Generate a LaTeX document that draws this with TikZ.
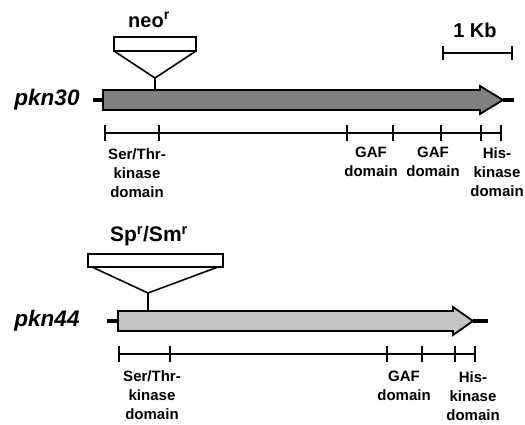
\documentclass[tikz,border=0pt]{standalone}
\usepackage{fontspec}
\setmainfont{Liberation Sans}
\usetikzlibrary{positioning}
\definecolor{BarDark}{RGB}{128,128,128}
\definecolor{BarLight}{RGB}{196,196,196}

\begin{document}
\begin{tikzpicture}[
    x=1pt, y=-1pt,
    genebar/.style={draw=black, line width=1.8pt, line join=miter},
    genestub/.style={line width=4.5pt},
    mapline/.style={line width=1.6pt},
    insertbox/.style={draw=black, line width=1.6pt, fill=white},
    genename/.style={font=\fontsize{22.5}{25}\selectfont\bfseries\itshape, inner sep=0pt},
    markerlabel/.style={font=\fontsize{20}{23}\selectfont\bfseries, inner sep=0pt},
    domainlabel/.style={font=\fontsize{15}{19}\selectfont\bfseries, align=center, anchor=north, inner sep=0pt}
]
\useasboundingbox (0,0) rectangle (525,425);

% pkn30: dark gene arrow with its flanking stubs
\node[genename] (pkn30) at (47,100) {pkn30};
\coordinate (g30start) at (103,100);
\coordinate (g30tip) at (503,100);
\draw[genestub] (93,100) -- (g30start);
\draw[genestub] (g30tip) -- (514,100);
\draw[genebar, fill=BarDark] (103,90) -- (480,90) -- (480,86) -- (g30tip)
    -- (480,114) -- (480,110) -- (103,110) -- cycle;

% neo cassette inserted into pkn30
\node[markerlabel] (neo) at (149,20) {neo\textsuperscript{r}};
\coordinate (neoapex) at (155,78);
\draw[insertbox] (114,37) rectangle (196,51);
\draw[mapline, line join=miter] (114,51) -- (neoapex) -- (196,51);
\draw[mapline] (neoapex) -- (155,90);

% scale bar
\node[markerlabel] (kb) at (475,30) {1 Kb};
\coordinate (kbleft) at (443,53);
\coordinate (kbright) at (512,53);
\draw[mapline] (kbleft) -- (kbright);
\foreach \x in {443,512}
    \draw[mapline] (\x,46) -- (\x,60);

% pkn30 domain map
\coordinate (map30left) at (105,133);
\coordinate (map30right) at (501,133);
\draw[mapline] (map30left) -- (map30right);
\foreach \x in {105,159,347,393,441,481,501}
    \draw[mapline] (\x,125) -- (\x,141);
\node[domainlabel] (st30) at (137,148) {Ser/Thr-\\kinase\\domain};
\node[domainlabel] (gafa30) at (371,147) {GAF\\domain};
\node[domainlabel] (gafb30) at (433,147) {GAF\\domain};
\node[domainlabel] (his30) at (497,147) {His-\\kinase\\domain};

% pkn44: light gene arrow with its flanking stubs
\node[genename] (pkn44) at (47,321) {pkn44};
\coordinate (g44start) at (118,321);
\coordinate (g44tip) at (473,321);
\draw[genestub] (107,321) -- (g44start);
\draw[genestub] (g44tip) -- (488,321);
\draw[genebar, fill=BarLight] (118,311) -- (453,311) -- (453,307) -- (g44tip)
    -- (453,335) -- (453,331) -- (118,331) -- cycle;

% Sp/Sm cassette inserted into pkn44
\node[markerlabel, font=\fontsize{21}{24}\selectfont\bfseries] (spsm) at (149,236) {Sp\textsuperscript{r}/Sm\textsuperscript{r}};
\coordinate (spsmapex) at (148,293);
\draw[insertbox] (88,254) rectangle (223,267);
\draw[mapline, line join=miter] (92,267) -- (spsmapex) -- (218,267);
\draw[mapline] (spsmapex) -- (148,311);

% pkn44 domain map
\coordinate (map44left) at (119,354);
\coordinate (map44right) at (475,354);
\draw[mapline] (map44left) -- (map44right);
\foreach \x in {119,170,387,422,455,475}
    \draw[mapline] (\x,346) -- (\x,362);
\node[domainlabel] (st44) at (152,370) {Ser/Thr-\\kinase\\domain};
\node[domainlabel] (gaf44) at (404,371) {GAF\\domain};
\node[domainlabel] (his44) at (473,371) {His-\\kinase\\domain};

\end{tikzpicture}
\end{document}
